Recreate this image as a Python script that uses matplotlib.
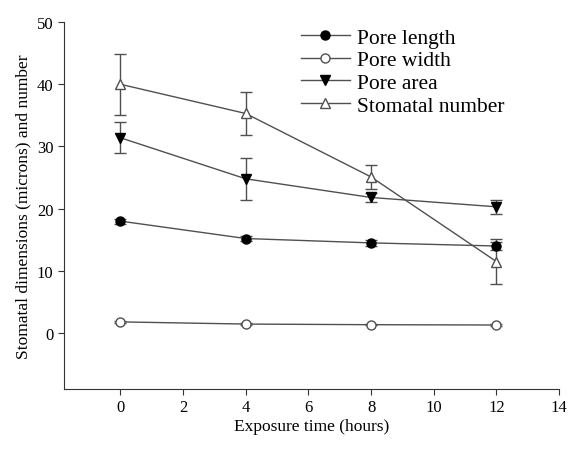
import matplotlib
matplotlib.use("Agg")
import matplotlib.pyplot as plt
from matplotlib.lines import Line2D

plt.rcParams['font.family'] = ['Liberation Serif', 'DejaVu Serif']

hours = [0, 4, 8, 12]
pore_length = [18.0, 15.2, 14.5, 14.0]
pore_length_err = [0.4, 0.4, 0.5, 0.6]
pore_width = [1.8, 1.45, 1.35, 1.3]
pore_width_err = [0.1, 0.1, 0.1, 0.1]
pore_area = [31.4, 24.8, 21.8, 20.3]
pore_area_err = [2.5, 3.4, 0.7, 1.1]
stomatal_number = [40.0, 35.3, 25.1, 11.5]
stomatal_number_err = [4.9, 3.5, 2.0, 3.6]
labels = ['Pore length', 'Pore width', 'Pore area', 'Stomatal number']

fig = plt.figure(figsize=(5.74, 4.52), dpi=100)
ax = fig.add_axes([0.1115, 0.137, 0.8625, 0.812])

lc = '#505050'
common = dict(color=lc, ecolor=lc, elinewidth=1.0, capsize=4, capthick=1.0, lw=1.0, ms=6.5)
styles = [
    dict(marker='o', mfc='black', mec='black'),
    dict(marker='o', mfc='white', mec=lc),
    dict(marker='v', mfc='black', mec='black'),
    dict(marker='^', mfc='white', mec=lc),
]
series = [(pore_length, pore_length_err), (pore_width, pore_width_err),
          (pore_area, pore_area_err), (stomatal_number, stomatal_number_err)]
handles = []
for (vals, errs), st, lab in zip(series, styles, labels):
    ax.errorbar(hours, vals, yerr=errs, **st, **common)
    handles.append(Line2D([], [], color=lc, lw=1.0, ms=6.5, **st))

ax.set_xlim(-1.8, 14)
ax.set_ylim(-9, 50)
ax.set_xticks([0, 2, 4, 6, 8, 10, 12, 14])
ax.set_yticks([0, 10, 20, 30, 40, 50])
for s in ['top', 'right']:
    ax.spines[s].set_visible(False)
for s in ['left', 'bottom']:
    ax.spines[s].set_color('#333333')
ax.tick_params(direction='out', length=4, labelsize=12, colors='#333333', labelcolor='black')
ax.set_xlabel('Exposure time (hours)', fontsize=12.5, labelpad=2)
ax.set_ylabel('Stomatal dimensions (microns) and number', fontsize=12.5, labelpad=4)

ax.legend(handles, labels, loc='upper left', bbox_to_anchor=(0.478, 0.985), frameon=False, fontsize=15.5,
          handlelength=2.3, handletextpad=0.3, labelspacing=0.12, borderaxespad=0.0, borderpad=0.0)

fig.savefig('out.png', dpi=100)
